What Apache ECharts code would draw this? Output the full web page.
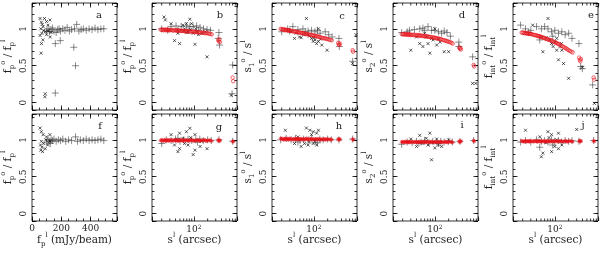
<!DOCTYPE html>
<html><head><meta charset="utf-8">
<script src="https://cdn.jsdelivr.net/npm/echarts@6/dist/echarts.min.js"></script>
<style>html,body{margin:0;padding:0;background:#fff}#c{width:600px;height:253px}</style>
</head><body><div id="c"></div>
<script>
// ---------------- data ----------------
// panel a / f : x = f_p^l (mJy/beam)
const aPlus = [[100,0.97],[110,1.0],[120,0.96],[130,0.99],[140,1.01],[150,0.97],[165,0.95],[175,0.99],[185,1.0],[195,0.97],[210,1.0],[225,0.98],[240,1.02],[255,0.97],[270,0.99],[290,1.0],[305,1.06],[320,0.97],[335,0.99],[350,1.0],[370,0.98],[390,1.0],[410,0.99],[430,1.01],[450,0.99],[470,1.0],[490,1.0],[159,0.8],[193,0.84],[285,0.75],[297,0.5],[159,0.13]];
const aDot = [[55,1.14],[85,1.14],[123,1.12],[99,1.1],[64,1.09],[109,1.05],[76,1.03],[60,1.0],[90,0.96],[67,0.94],[99,0.92],[124,0.89],[55,0.91],[74,0.85],[65,0.8],[62,0.67],[90,0.12],[88,0.08],[80,0.98],[110,0.97],[130,0.95],[70,1.06]];
const fPlus = [[100,0.97],[110,1.0],[120,0.98],[130,1.0],[140,0.99],[150,1.01],[165,0.98],[180,1.0],[195,0.99],[210,1.01],[230,0.98],[250,1.0],[270,0.99],[297,1.04],[310,0.98],[330,1.0],[350,0.99],[370,1.01],[390,0.99],[410,1.0],[430,0.99],[450,1.0],[470,1.01],[490,0.99],[125,0.95]];
const fDot = [[55,1.16],[64,1.11],[76,1.07],[99,1.04],[122,1.07],[64,0.98],[58,0.93],[60,0.86],[72,0.84],[90,0.88],[107,0.93],[122,0.98],[80,0.95],[95,1.0],[68,0.9]];

// panels b-e, g-j : x = s^l (arcsec)
const bPlus = [[20,1.0],[27,0.98],[32,1.03],[41,1.04],[45,0.98],[53,1.03],[69,1.04],[75,0.98],[82,1.03],[97,1.03],[115,1.04],[126,0.98],[137,1.02],[163,1.0],[194,0.99],[230,0.98],[352,0.95],[340,0.87],[362,0.78],[700,0.51],[680,0.12]];
const bDot = [[22.5,1.16],[24,1.12],[32,1.07],[38,0.84],[49,0.8],[58,1.05],[63,1.0],[69,1.07],[75,0.96],[82,1.13],[89,1.07],[97,0.94],[106,0.79],[115,0.96],[126,0.92],[149,0.94],[177,0.96],[194,0.62],[45,0.94],[650,0.1],[60,0.97],[85,0.99],[110,1.0],[70,0.95]];
const cPlus = [[20,0.96],[27,1.0],[35,1.03],[45,0.99],[58,1.0],[75,0.97],[89,0.98],[106,0.96],[137,0.94],[177,0.96],[211,0.92],[250,0.89],[352,0.87],[360,0.76],[700,0.56],[30,0.97],[65,0.96],[120,0.98]];
const cDot = [[69,1.14],[32,0.96],[41,0.94],[53,0.88],[75,0.92],[89,0.87],[106,0.85],[126,0.83],[97,0.83],[115,0.8],[149,0.78],[194,0.71],[126,1.0],[49,0.89],[38,0.87],[830,0.92],[700,0.53],[60,0.92],[80,0.9],[100,0.88],[140,0.86]];
const dPlus = [[19,0.95],[28,0.98],[36,0.99],[47,1.0],[60,0.98],[71,1.03],[85,0.98],[100,0.98],[120,0.96],[141,0.94],[184,0.95],[218,0.9],[334,0.82],[334,0.76],[665,0.62],[25,0.96],[55,1.01],[160,0.97]];
const dDot = [[30,0.71],[40,0.89],[47,0.8],[55,0.76],[71,0.8],[78,0.67],[92,0.85],[110,0.78],[130,0.82],[160,0.69],[200,0.69],[100,1.0],[65,0.89],[665,0.26],[780,0.26],[85,0.87],[120,0.86],[60,0.94]];
const ePlus = [[18,1.05],[23,1.0],[30,0.98],[40,1.03],[51,1.0],[60,1.03],[71,1.0],[85,0.96],[100,0.98],[120,0.94],[142,0.96],[168,0.92],[200,0.94],[237,0.87],[335,0.8],[366,0.49],[397,0.46],[47,0.85],[665,0.24],[27,0.95],[90,0.9]];
const eDot = [[33,1.05],[71,1.14],[51,0.89],[55,0.69],[78,0.85],[92,0.76],[100,0.82],[110,0.71],[120,0.58],[130,0.76],[142,0.71],[155,0.53],[110,0.87],[200,0.33],[725,-0.01],[397,0.48],[65,0.88],[85,0.8],[140,0.8]];
const gPlus = [[20,0.95],[25,1.0],[32,0.99],[40,1.01],[50,0.98],[60,1.0],[75,1.01],[90,0.99],[110,1.0],[135,1.01],[160,0.99],[200,1.0],[240,0.99],[352,1.0],[700,0.98],[45,1.02],[120,0.97]];
const gDot = [[82,1.156],[32,1.07],[49,1.09],[69,1.11],[106,1.07],[45,0.84],[49,0.88],[75,0.93],[106,0.86],[137,0.91],[194,0.88],[149,0.98],[63,0.95],[38,0.93],[97,0.8],[85,1.03],[58,1.02]];
const hPlus = [[19,1.0],[25,1.02],[32,1.0],[40,1.02],[50,0.99],[60,1.01],[75,1.0],[90,1.02],[110,0.99],[135,1.01],[160,1.0],[200,1.01],[240,1.0],[352,1.0],[700,1.01],[45,0.97],[120,0.96]];
const hDot = [[24,1.13],[69,1.16],[82,1.13],[97,1.11],[115,1.09],[89,1.07],[126,1.13],[45,1.04],[53,0.91],[63,0.95],[75,0.93],[97,0.95],[115,0.93],[149,1.0],[38,0.95],[80,0.97],[105,0.98]];
const iPlus = [[19,0.94],[25,0.97],[32,0.96],[40,0.98],[50,0.97],[60,0.99],[75,0.96],[90,0.98],[110,0.97],[135,0.98],[160,0.97],[200,0.98],[240,0.97],[352,0.98],[700,0.99],[45,0.95],[120,0.95]];
const iDot = [[30,1.01],[47,1.06],[78,1.09],[85,0.73],[71,0.93],[100,0.89],[120,0.93],[55,0.95],[141,0.91],[200,1.0],[40,0.91],[65,1.02],[90,0.96],[110,1.01]];
const jPlus = [[18,0.97],[23,0.99],[30,0.97],[40,1.0],[51,0.98],[60,0.99],[71,0.97],[85,1.0],[100,0.98],[120,0.99],[142,0.97],[168,0.99],[200,0.98],[237,0.99],[335,0.98],[700,0.99],[47,0.9],[90,0.93]];
const jDot = [[23,1.13],[71,1.11],[85,1.07],[120,1.09],[47,1.04],[55,0.82],[85,0.84],[100,0.91],[120,0.88],[142,0.93],[51,0.77],[65,0.96],[110,1.0],[75,1.03],[300,1.14]];

// red (model) points: common s^l values, one ratio list per panel
const redS = [19,20,21,22,23,24,25,26,27,28,
  29,30,32,34,36,38,40,42,44,46,
  48,50,53,56,59,62,65,68,72,76,
  80,85,90,95,100,106,112,118,125,132,
  140,150,160,170,180,190,200,215,230,245,
  340,350,360,370,700,720];
const redB = [0.99,0.985,0.99,0.98,0.99,0.985,0.98,0.99,0.985,0.98,
  0.985,0.98,0.985,0.98,0.975,0.985,0.98,0.975,0.98,0.975,
  0.98,0.97,0.975,0.97,0.975,0.97,0.965,0.97,0.965,0.97,
  0.96,0.965,0.96,0.965,0.96,0.955,0.96,0.955,0.95,0.955,
  0.95,0.945,0.95,0.945,0.94,0.945,0.94,0.935,0.93,0.925,
  0.85,0.83,0.86,0.82,0.34,0.29];
const redC = [1.0,0.995,0.99,0.995,0.985,0.99,0.98,0.985,0.98,0.975,
  0.98,0.975,0.97,0.97,0.965,0.965,0.96,0.96,0.955,0.955,
  0.95,0.95,0.945,0.945,0.94,0.935,0.935,0.93,0.93,0.925,
  0.92,0.92,0.915,0.91,0.91,0.905,0.9,0.9,0.895,0.89,
  0.885,0.88,0.875,0.87,0.87,0.865,0.86,0.855,0.85,0.845,
  0.81,0.79,0.78,0.8,0.71,0.69];
const redD = [0.93,0.925,0.93,0.92,0.925,0.93,0.92,0.925,0.92,0.925,
  0.92,0.915,0.92,0.915,0.92,0.91,0.915,0.91,0.915,0.91,
  0.905,0.91,0.905,0.9,0.905,0.9,0.9,0.895,0.895,0.89,
  0.89,0.885,0.885,0.88,0.88,0.875,0.87,0.87,0.865,0.86,
  0.855,0.85,0.845,0.84,0.835,0.83,0.825,0.82,0.81,0.8,
  0.75,0.73,0.74,0.72,0.51,0.49];
const redE = [0.95,0.945,0.95,0.94,0.945,0.94,0.935,0.94,0.935,0.93,
  0.935,0.93,0.925,0.92,0.915,0.915,0.91,0.905,0.9,0.9,
  0.895,0.89,0.885,0.88,0.875,0.87,0.865,0.86,0.855,0.85,
  0.845,0.84,0.83,0.825,0.82,0.81,0.805,0.795,0.79,0.78,
  0.77,0.76,0.75,0.74,0.73,0.72,0.71,0.7,0.69,0.68,
  0.61,0.58,0.56,0.59,0.34,0.31];
const redG = [0.99,1.0,0.99,0.985,1.0,0.99,0.995,0.985,1.0,0.99,
  0.995,0.99,1.0,0.985,0.99,0.995,0.99,1.0,0.985,0.99,
  0.995,0.99,1.0,0.99,0.985,0.995,0.99,1.0,0.99,0.985,
  0.995,0.99,1.0,0.99,0.985,0.99,0.995,0.99,1.0,0.985,
  0.99,0.995,0.99,1.0,0.99,0.985,0.99,0.995,0.99,0.985,
  0.99,1.0,0.985,0.99,0.98,0.975];
const redH = [1.02,1.01,1.015,1.0,1.01,1.02,1.005,1.01,1.015,1.0,
  1.01,1.02,1.005,1.01,1.0,1.015,1.01,1.005,1.02,1.01,
  1.0,1.01,1.015,1.005,1.01,1.0,1.01,1.02,1.005,1.01,
  1.0,1.015,1.01,1.005,1.01,1.0,1.01,1.015,1.005,1.01,
  1.0,1.01,1.005,1.01,1.0,1.01,1.005,1.01,1.0,1.005,
  1.01,1.0,1.01,1.005,1.01,1.0];
const redI = [0.97,0.975,0.965,0.97,0.975,0.97,0.965,0.975,0.97,0.965,
  0.97,0.975,0.97,0.965,0.97,0.975,0.97,0.965,0.97,0.975,
  0.97,0.965,0.97,0.975,0.97,0.965,0.97,0.975,0.97,0.965,
  0.97,0.975,0.97,0.965,0.97,0.975,0.97,0.965,0.97,0.975,
  0.97,0.965,0.97,0.975,0.97,0.965,0.97,0.975,0.97,0.965,
  0.98,0.97,0.975,0.985,0.99,0.98];
const redJ = [0.985,0.98,0.975,0.98,0.985,0.975,0.98,0.985,0.98,0.975,
  0.98,0.985,0.98,0.975,0.98,0.985,0.98,0.975,0.98,0.985,
  0.98,0.975,0.98,0.985,0.98,0.975,0.98,0.985,0.98,0.975,
  0.98,0.985,0.98,0.975,0.98,0.985,0.98,0.975,0.98,0.985,
  0.98,0.975,0.98,0.985,0.98,0.975,0.98,0.985,0.98,0.975,
  0.98,0.99,0.975,0.985,0.985,0.98];

// tick values
const yMajorLabels = [0, 0.5, 1];
const logMinorTicks = [20,30,40,50,60,70,80,90,200,300,400,500,600,700,800,900];
const linMajorLabels = [0, 200, 400];

// ---------------- layout ----------------
const FONT = 'DejaVu Serif';
const TXT = '#222';
const Y_MIN = -0.1, Y_MAX = 1.35;
const LIN_MAX = 580;
const LOG_MIN = Math.pow(10, 1.09), LOG_MAX = Math.pow(10, 2.94);
const lefts = [32, 152, 272, 393, 513];
const rows = [{top: 3, h: 107}, {top: 114, h: 107}];
const W = 85;
const letterPos = [[99,15],[220,15],[342,16],[462,15],[591,15],[100,126],[219,127],[339,126],[462,125],[583,125]];

const RICH = {
  b: {fontFamily: FONT, fontSize: 10.5, lineHeight: 16, verticalAlign: 'middle', color: TXT},
  s: {fontFamily: FONT, fontSize: 7, lineHeight: 7, verticalAlign: 'bottom', color: TXT},
  u: {fontFamily: FONT, fontSize: 7, lineHeight: 7, verticalAlign: 'top', color: TXT},
  tb: {fontFamily: FONT, fontSize: 9, lineHeight: 12, verticalAlign: 'middle', color: TXT},
  tu: {fontFamily: FONT, fontSize: 6, lineHeight: 6, verticalAlign: 'top', color: TXT}
};
const NAME_FP = '{b|f}{s|p}{u|o}{b| / f}{s|p}{u|l}';
const NAME_S1 = '{b|s}{s|1}{u|o}{b| / s}{u|l}';
const NAME_S2 = '{b|s}{s|2}{u|o}{b| / s}{u|l}';
const NAME_FI = '{b|f}{s|int}{u|o}{b| / f}{s|int}{u|l}';
const XNAME_FP = '{b|f}{s|p}{u|l}{b| (mJy/beam)}';
const XNAME_S = '{b|s}{u|l}{b| (arcsec)}';

const panels = [
  {id:'a', lin:true, plus:aPlus, dot:aDot, red:null, yname:NAME_FP},
  {id:'b', plus:bPlus, dot:bDot, red:redB, yname:NAME_FP},
  {id:'c', plus:cPlus, dot:cDot, red:redC, yname:NAME_S1},
  {id:'d', plus:dPlus, dot:dDot, red:redD, yname:NAME_S2},
  {id:'e', plus:ePlus, dot:eDot, red:redE, yname:NAME_FI},
  {id:'f', lin:true, plus:fPlus, dot:fDot, red:null, yname:NAME_FP},
  {id:'g', plus:gPlus, dot:gDot, red:redG, yname:NAME_FP},
  {id:'h', plus:hPlus, dot:hDot, red:redH, yname:NAME_S1},
  {id:'i', plus:iPlus, dot:iDot, red:redI, yname:NAME_S2},
  {id:'j', plus:jPlus, dot:jDot, red:redJ, yname:NAME_FI}
];

const PLUS = 'path://M0,5L10,5M5,0L5,10';
const XMARK = 'path://M0,0L10,10M10,0L0,10';
const ASTER = 'path://M5,0L5,10M0,5L10,5M1.5,1.5L8.5,8.5M8.5,1.5L1.5,8.5';
const tickStyle = {color: '#000', width: 0.8};
const near = (v, list) => list.some(t => Math.abs(v - t) < 1e-6);

const grids = [], xAxes = [], yAxes = [], series = [], graphics = [];

panels.forEach((p, gi) => {
  const r = Math.floor(gi / 5), c = gi % 5;
  grids.push({left: lefts[c], top: rows[r].top, width: W, height: rows[r].h,
    show: true, borderColor: '#000', borderWidth: 0.8, backgroundColor: 'transparent',
    containLabel: false, outerBoundsMode: 'none'});

  // y axes: left/right, major/minor
  const yBase = {type: 'value', gridIndex: gi, min: Y_MIN, max: Y_MAX,
    axisLine: {show: false, onZero: false}, splitLine: {show: false}};
  const yMainIndex = yAxes.length;
  ['left', 'right'].forEach(pos => {
    yAxes.push(Object.assign({}, yBase, {position: pos, splitNumber: 3,
      axisTick: {show: true, inside: true, length: 4.5, lineStyle: tickStyle},
      axisLabel: pos === 'left' ? {show: true, rotate: 90, margin: 4, fontFamily: FONT, fontSize: 9, color: TXT,
        formatter: v => near(v, yMajorLabels) ? String(Math.round(v * 10) / 10) : ''} : {show: false},
      name: pos === 'left' ? p.yname : '', nameLocation: 'middle', nameGap: 16, nameRotate: 90,
      nameMoveOverlap: false, nameTextStyle: {rich: RICH}}));
    yAxes.push(Object.assign({}, yBase, {position: pos, interval: 0.1,
      axisTick: {show: true, inside: true, length: 2.5, lineStyle: tickStyle}, axisLabel: {show: false}}));
  });

  // x axes
  const xMainIndex = xAxes.length;
  const bottomRow = r === 1;
  if (p.lin) {
    const xBase = {type: 'value', gridIndex: gi, min: 0, max: LIN_MAX,
      axisLine: {show: false, onZero: false}, splitLine: {show: false}};
    ['bottom', 'top'].forEach(pos => {
      xAxes.push(Object.assign({}, xBase, {position: pos, interval: 200,
        axisTick: {show: true, inside: true, length: 4.5, lineStyle: tickStyle},
        axisLabel: (pos === 'bottom' && bottomRow) ? {show: true, margin: 3, fontFamily: FONT, fontSize: 9, color: TXT,
          formatter: v => near(v, linMajorLabels) ? String(v) : ''} : {show: false},
        name: (pos === 'bottom' && bottomRow) ? XNAME_FP : '', nameLocation: 'middle', nameGap: 11,
        nameMoveOverlap: false, nameTextStyle: {rich: RICH}}));
      xAxes.push(Object.assign({}, xBase, {position: pos, interval: 50,
        axisTick: {show: true, inside: true, length: 2.5, lineStyle: tickStyle}, axisLabel: {show: false}}));
    });
  } else {
    const xBase = {type: 'log', logBase: 10, gridIndex: gi, min: LOG_MIN, max: LOG_MAX,
      axisLine: {show: false, onZero: false}, splitLine: {show: false}};
    ['bottom', 'top'].forEach(pos => {
      xAxes.push(Object.assign({}, xBase, {position: pos,
        axisTick: {show: true, inside: true, length: 4.5, lineStyle: tickStyle},
        axisLabel: (pos === 'bottom' && bottomRow) ? {show: true, margin: 3, rich: RICH,
          formatter: v => Math.abs(v - 100) < 0.5 ? '{tb|10}{tu|2}' : ''} : {show: false},
        name: (pos === 'bottom' && bottomRow) ? XNAME_S : '', nameLocation: 'middle', nameGap: 11,
        nameMoveOverlap: false, nameTextStyle: {rich: RICH}}));
    });
    // minor log ticks drawn through the axis scale
    series.push({type: 'custom', xAxisIndex: xMainIndex, yAxisIndex: yMainIndex, silent: true, clip: false, z: 1,
      data: logMinorTicks.map(v => [v, 0]),
      renderItem: (params, api) => {
        const v = api.value(0);
        const b = api.coord([v, Y_MIN]), t = api.coord([v, Y_MAX]);
        return {type: 'group', children: [
          {type: 'line', shape: {x1: b[0], y1: b[1], x2: b[0], y2: b[1] - 2.5}, style: {stroke: '#000', lineWidth: 0.8}},
          {type: 'line', shape: {x1: t[0], y1: t[1], x2: t[0], y2: t[1] + 2.5}, style: {stroke: '#000', lineWidth: 0.8}}
        ]};
      }});
  }

  series.push({type: 'scatter', xAxisIndex: xMainIndex, yAxisIndex: yMainIndex, data: p.plus,
    symbol: PLUS, symbolSize: 7, itemStyle: {color: 'rgba(0,0,0,0)', borderColor: '#333', borderWidth: 0.7}, z: 2});
  series.push({type: 'scatter', xAxisIndex: xMainIndex, yAxisIndex: yMainIndex, data: p.dot,
    symbol: XMARK, symbolSize: 3, itemStyle: {color: 'rgba(0,0,0,0)', borderColor: '#000', borderWidth: 0.8}, z: 3});
  if (p.red) {
    series.push({type: 'scatter', xAxisIndex: xMainIndex, yAxisIndex: yMainIndex,
      data: redS.map((s, k) => [s, p.red[k]]),
      symbol: bottomRow ? ASTER : 'circle', symbolSize: bottomRow ? 4 : 3.5,
      itemStyle: {color: 'rgba(0,0,0,0)', borderColor: '#e8141c', borderWidth: 0.8}, z: 4});
  }

  graphics.push({type: 'text', x: letterPos[gi][0], y: letterPos[gi][1], silent: true,
    style: {text: p.id, fontFamily: FONT, fontSize: 10, fill: TXT, align: 'center', verticalAlign: 'middle'}});
});

const chart = echarts.init(document.getElementById('c'), null, {renderer: 'canvas'});
chart.setOption({animation: false, grid: grids, xAxis: xAxes, yAxis: yAxes, series: series, graphic: graphics});
</script></body></html>
